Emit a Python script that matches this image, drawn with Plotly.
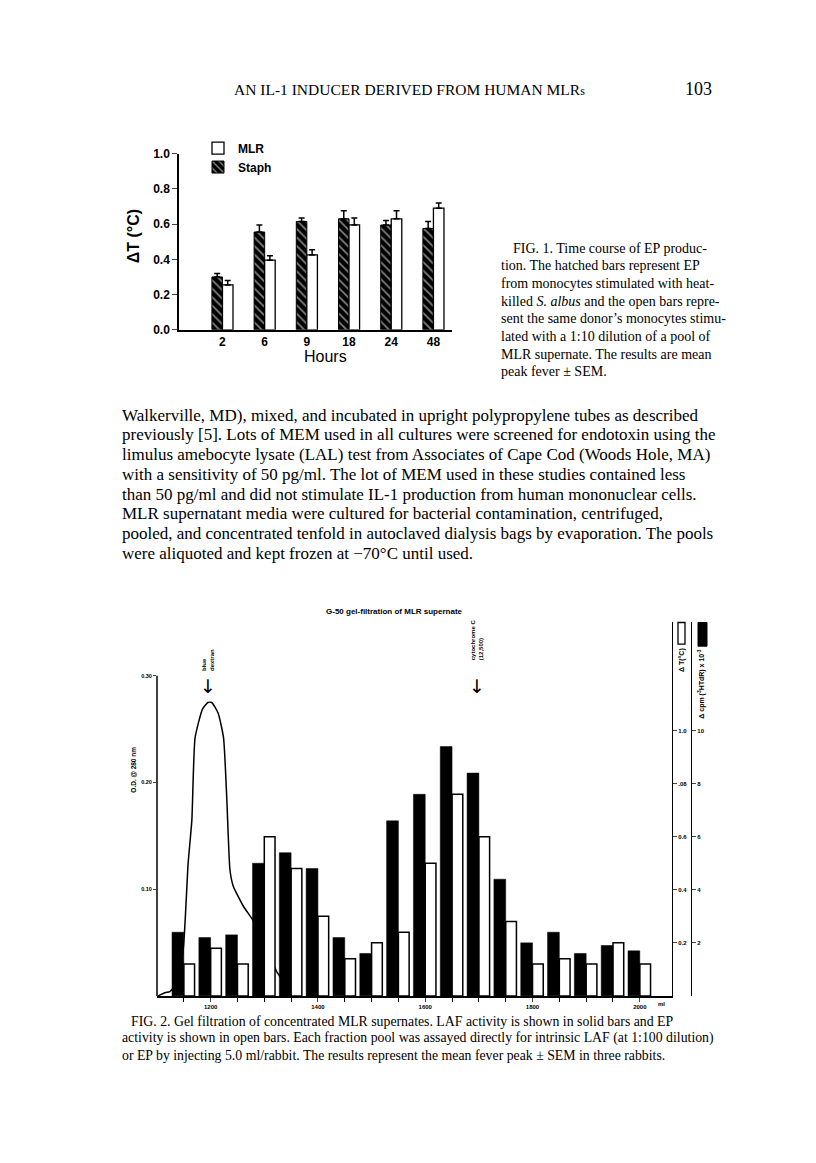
import plotly.graph_objects as go

# the page body keeps its default 8 px margin, so the figure is drawn 16 px
# smaller and every reference pixel position is shifted by that margin
PAD = 8
W, H = 816 - 2 * PAD, 1163 - 2 * PAD


def X(px):
    return (px - PAD) / W


def Y(py):
    return 1 - (py - PAD) / H


# ---- Fig. 1 data: peak fever (delta T, deg C) by incubation time ----
hours = ["2", "6", "9", "18", "24", "48"]
staph = [0.30, 0.555, 0.615, 0.63, 0.595, 0.575]
staph_sem = [0.02, 0.04, 0.02, 0.045, 0.025, 0.04]
mlr = [0.255, 0.395, 0.425, 0.595, 0.63, 0.69]
mlr_sem = [0.025, 0.025, 0.03, 0.04, 0.045, 0.03]

# ---- Fig. 2 data: G-50 gel filtration fractions ----
fraction_ml = [1150, 1200, 1250, 1300, 1350, 1400, 1450, 1500, 1550,
               1600, 1650, 1700, 1750, 1800, 1850, 1900, 1950, 2000]
laf_cpm = [2.4, 2.2, 2.3, 5.0, 5.4, 4.8, 2.2, 1.6, 6.6,
           7.6, 9.4, 8.4, 4.4, 2.0, 2.4, 1.6, 1.9, 1.7]      # x10^-3
ep_dt = [0.12, 0.18, 0.12, 0.60, 0.48, 0.30, 0.14, 0.20, 0.24,
         0.50, 0.76, 0.60, 0.28, 0.12, 0.14, 0.12, 0.20, 0.12]
od_ml = [1102, 1115, 1124, 1137, 1149, 1158, 1165, 1171, 1185, 1195, 1202,
         1214, 1224, 1230, 1236, 1242, 1261, 1280, 1301, 1324, 1339, 1357]
od_280 = [0.0, 0.003, 0.004, 0.012, 0.044, 0.124, 0.165, 0.242, 0.269, 0.275, 0.275,
          0.265, 0.242, 0.186, 0.118, 0.103, 0.084, 0.070, 0.049, 0.022, 0.012, 0.005]
big_ticks = [1200, 1400, 1600, 1800, 2000]

fig = go.Figure()

# Fig. 1 bars
fig.add_trace(go.Bar(
    x=hours, y=staph, name="Staph", legendrank=2,
    marker=dict(color="black", line=dict(color="black", width=1),
                pattern=dict(shape="\\", fgcolor="white", bgcolor="black", size=6, solidity=0.3)),
    error_y=dict(type="data", array=staph_sem, arrayminus=[0] * len(staph), symmetric=False,
                 color="black", thickness=1.5, width=3),
))
fig.add_trace(go.Bar(
    x=hours, y=mlr, name="MLR", legendrank=1,
    marker=dict(color="white", line=dict(color="black", width=1.3)),
    error_y=dict(type="data", array=mlr_sem, arrayminus=[0] * len(mlr), symmetric=False,
                 color="black", thickness=1.5, width=3),
))

# Fig. 2: O.D. curve under the bars
fig.add_trace(go.Scatter(
    x=od_ml, y=od_280, xaxis="x2", yaxis="y2", mode="lines", showlegend=False,
    line=dict(color="black", width=1.5, shape="spline", smoothing=0.5),
))
fig.add_trace(go.Bar(
    x=fraction_ml, y=ep_dt, xaxis="x2", yaxis="y3", width=20, offset=0, showlegend=False,
    marker=dict(color="white", line=dict(color="black", width=1.5)),
))
fig.add_trace(go.Bar(
    x=fraction_ml, y=laf_cpm, xaxis="x2", yaxis="y4", width=22, offset=-22, showlegend=False,
    marker=dict(color="black", line=dict(color="black", width=0.5)),
))

small = dict(family="Liberation Sans", size=6, color="black", weight="bold")

fig.update_layout(
    width=W, height=H, autosize=False,
    margin=dict(l=0, r=0, t=0, b=0),
    paper_bgcolor="white", plot_bgcolor="white",
    font=dict(family="Liberation Sans", color="black"),
    barmode="group", bargap=0.5, bargroupgap=0,
    showlegend=True,
    legend=dict(x=X(198), y=Y(128), xanchor="left", yanchor="top",
                font=dict(family="Liberation Sans", size=12, weight="bold"),
                bgcolor="rgba(0,0,0,0)", tracegroupgap=0, itemwidth=30),
    xaxis=dict(domain=[X(179), X(452)], range=[-1.03, 5.44], type="category",
               showline=True, linecolor="black", linewidth=1.5, ticks="",
               tickfont=dict(family="Liberation Sans", size=12, weight="bold"),
               showgrid=False, zeroline=False, anchor="y"),
    yaxis=dict(domain=[Y(326.7), Y(148.3)], range=[0, 1.0], dtick=0.2, tickformat=".1f",
               showline=True, linecolor="black", linewidth=1.5, ticks="outside", ticklen=5,
               tickwidth=1.3, tickfont=dict(family="Liberation Sans", size=12, weight="bold"),
               showgrid=False, zeroline=False, anchor="x"),
    xaxis2=dict(domain=[X(157), X(672)], range=[1100, 2060], anchor="y2",
                showline=True, linecolor="black", linewidth=1.5,
                ticks="outside", ticklen=4, tickwidth=1.2, tickvals=big_ticks,
                minor=dict(tickmode="array", tickvals=fraction_ml, ticks="outside",
                           ticklen=4, tickwidth=1.2, tickcolor="black"),
                tickfont=small, showgrid=False, zeroline=False),
    yaxis2=dict(domain=[Y(1001), Y(622)], range=[0, 0.3509], anchor="x2",
                showline=False, ticks="outside", ticklen=3, tickwidth=1.2,
                tickvals=[0.1, 0.2, 0.3], ticktext=["0.10", "0.20", "0.30"],
                tickfont=dict(family="Liberation Sans", size=5.5, color="black", weight="bold"),
                showgrid=False, zeroline=False),
    yaxis3=dict(overlaying="y2", side="right", anchor="x2", range=[0, 1.4115],
                showline=True, linecolor="black", linewidth=1.2,
                ticks="outside", ticklen=4, tickwidth=1.2,
                tickvals=[0.2, 0.4, 0.6, 0.8, 1.0], ticktext=["0.2", "0.4", "0.6", ".08", "1.0"],
                tickfont=small, showgrid=False, zeroline=False),
    yaxis4=dict(overlaying="y2", side="right", anchor="free", position=X(691), range=[0, 14.115],
                showline=True, linecolor="black", linewidth=1.2,
                ticks="outside", ticklen=4, tickwidth=1.2,
                tickvals=[2, 4, 6, 8, 10], ticktext=["2", "4", "6", "8", "10"],
                tickfont=small, showgrid=False, zeroline=False),
)

# left O.D. axis line only up to 0.30
fig.add_shape(type="line", xref="x2 domain", yref="y2", x0=0, x1=0, y0=0, y1=0.30,
              line=dict(color="black", width=1.5))
# legend boxes beside the right-hand axes of Fig. 2
fig.add_shape(type="rect", xref="paper", yref="paper", x0=X(678), x1=X(685), y0=Y(645), y1=Y(623),
              line=dict(color="black", width=1.3), fillcolor="white")
fig.add_shape(type="rect", xref="paper", yref="paper", x0=X(698), x1=X(707), y0=Y(647), y1=Y(623),
              line=dict(color="black", width=1), fillcolor="black")

ann = []


def text(px, py, s, size, family="Liberation Serif", anchor="left", angle=0, bold=False):
    ann.append(dict(x=X(px), y=Y(py), xref="paper", yref="paper", text=s, showarrow=False,
                    xanchor=anchor, yanchor="middle", textangle=angle, align="left",
                    borderpad=0, borderwidth=0,
                    font=dict(family=family, size=size, color="black",
                              weight="bold" if bold else "normal")))


# page header
text(410, 83, "AN IL-1 INDUCER DERIVED FROM HUMAN MLR<span style='font-size:12px'>s</span>",
     15.5, anchor="center")
text(712, 83, "103", 18, anchor="right")

# Fig. 1 axis titles
text(133, 232, "ΔT (°C)", 16, family="Liberation Sans", anchor="center", angle=-90, bold=True)
text(325, 354, "Hours", 16, family="Liberation Sans", anchor="center")

# Fig. 1 caption
cap1 = [
    "FIG. 1. Time course of EP produc-",
    "tion. The hatched bars represent EP",
    "from monocytes stimulated with heat-",
    "killed <i>S. albus</i> and the open bars repre-",
    "sent the same donor’s monocytes stimu-",
    "lated with a 1:10 dilution of a pool of",
    "MLR supernate. The results are mean",
    "peak fever ± SEM.",
]
for i, line in enumerate(cap1):
    text(513 if i == 0 else 501, 244 + 17.9 * i, line, 14)

# body text
body = [
    "Walkerville, MD), mixed, and incubated in upright polypropylene tubes as described",
    "previously [5]. Lots of MEM used in all cultures were screened for endotoxin using the",
    "limulus amebocyte lysate (LAL) test from Associates of Cape Cod (Woods Hole, MA)",
    "with a sensitivity of 50 pg/ml. The lot of MEM used in these studies contained less",
    "than 50 pg/ml and did not stimulate IL-1 production from human mononuclear cells.",
    "MLR supernatant media were cultured for bacterial contamination, centrifuged,",
    "pooled, and concentrated tenfold in autoclaved dialysis bags by evaporation. The pools",
    "were aliquoted and kept frozen at −70°C until used.",
]
for i, line in enumerate(body):
    text(122, 413 + 20 * i, line, 17)

# Fig. 2 title and labels
text(394, 612, "G-50 gel-filtration of MLR supernate", 8, family="Liberation Sans", anchor="center", bold=True)
text(208, 661, "blue<br>dextran", 6, family="Liberation Sans", anchor="center", angle=-90, bold=True)
text(208, 687, "↓", 19, family="DejaVu Sans", anchor="center")
text(477, 641, "cytochrome C<br>(12,500)", 6, family="Liberation Sans", anchor="center", angle=-90, bold=True)
text(477, 687, "↓", 19, family="DejaVu Sans", anchor="center")
text(134, 772, "O.D. @ 280 nm", 6.5, family="Liberation Sans", anchor="center", angle=-90, bold=True)
text(682, 661, "Δ T(°C)", 7, family="Liberation Sans", anchor="center", angle=-90, bold=True)
text(702, 685, "Δ cpm (<sup>3</sup>HTdR) x 10<sup>-3</sup>", 7, family="Liberation Sans",
     anchor="center", angle=-90, bold=True)
text(661, 1009, "ml", 6, family="Liberation Sans", anchor="center", bold=True)

# Fig. 2 caption
cap2 = [
    "FIG. 2. Gel filtration of concentrated MLR supernates. LAF activity is shown in solid bars and EP",
    "activity is shown in open bars. Each fraction pool was assayed directly for intrinsic LAF (at 1:100 dilution)",
    "or EP by injecting 5.0 ml/rabbit. The results represent the mean fever peak ± SEM in three rabbits.",
]
for i, line in enumerate(cap2):
    text(131 if i == 0 else 122, 1027 + 17 * i, line, 13.8)

fig.update_layout(annotations=ann)

fig.write_html("out.html")
